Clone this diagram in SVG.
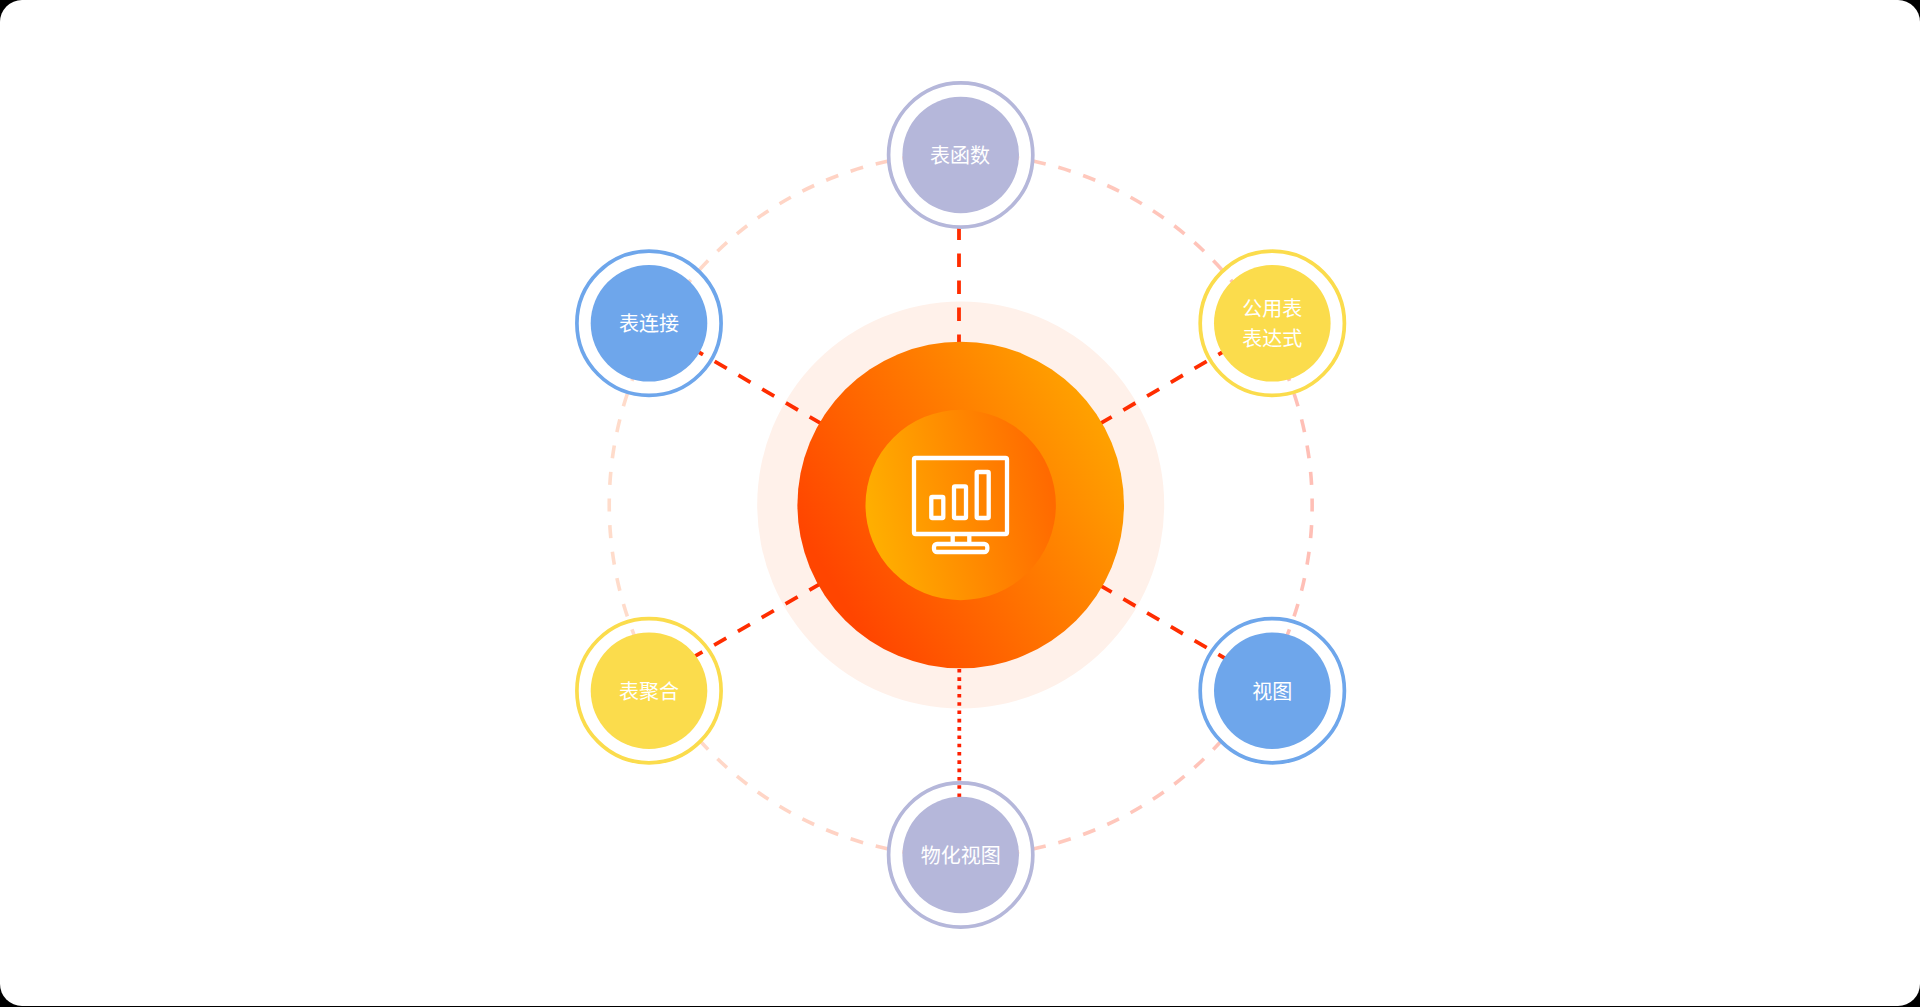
<svg xmlns="http://www.w3.org/2000/svg" width="1920" height="1007" viewBox="0 0 1920 1007">
<style>
.lbl{font-family:"Noto Sans CJK SC","Noto Sans",sans-serif;font-size:20px;fill:#fff;text-anchor:middle}
.ring{fill:none;stroke-width:3.7}
.link{fill:none;stroke:#ff2d00;stroke-width:3.8;stroke-dasharray:14 13.5}
.orbit{fill:none;stroke:url(#g3);stroke-width:3.6}
.o-a{stroke-dasharray:12 14.1 13 13.1 13 13.1 13 13.1 13 13.1 13 13.1 13 13.1 13 13.1 13 13.1 13 13.1 13 13.1 13 13.1}
.o-b{stroke-dasharray:13 13.67}
.blue .ring{stroke:#6ea6eb}.blue .disc{fill:#6ea6eb}
.yellow .ring{stroke:#fbdc4c}.yellow .disc{fill:#fbdc4c}
.violet .ring{stroke:#b5b7da}.violet .disc{fill:#b5b7da}
.icon{fill:none;stroke:#fff;stroke-width:4.3;stroke-linejoin:round}
</style>
<defs>
<linearGradient id="g1" x1="0.08" y1="0.75" x2="0.92" y2="0.25"><stop offset="0.03" stop-color="#ff4500"/><stop offset="1" stop-color="#ffa000"/></linearGradient>
<linearGradient id="g2" x1="0" y1="0.6" x2="1" y2="0.4"><stop offset="0.03" stop-color="#ffae00"/><stop offset="0.97" stop-color="#ff6a00"/></linearGradient>
<linearGradient id="g3" gradientUnits="userSpaceOnUse" x1="609" y1="505" x2="1312" y2="505"><stop offset="0" stop-color="#ffdccb"/><stop offset="1" stop-color="#ffbfb6"/></linearGradient>
</defs>
<rect width="1920" height="1007" fill="#000"/>
<rect width="1920" height="1006" rx="22" fill="#fff"/>
<circle id="halo" cx="960.7" cy="505" r="203.5" fill="#fff1ea"/>
<g id="connectors">
<path class="orbit o-a" d="M1007.3 156.6A351.5 351.5 0 0 1 1245.1 298.4"/>
<path class="orbit o-a" d="M914.1 156.6A351.5 351.5 0 0 0 676.3 298.4"/>
<path class="orbit o-a" d="M1007.3 853.4A351.5 351.5 0 0 0 1245.1 711.6"/>
<path class="orbit o-a" d="M914.1 853.4A351.5 351.5 0 0 1 676.3 711.6"/>
<path class="orbit o-b" d="M1284.7 368.8A351.5 351.5 0 0 1 1284.7 641.2"/>
<path class="orbit o-b" d="M636.7 368.8A351.5 351.5 0 0 0 636.7 641.2"/>
<line class="link" x1="959" y1="199.5" x2="959" y2="345" style="stroke-dasharray:13.5 13.5"/>
<line class="link" x1="690.9" y1="347.5" x2="830" y2="428.7"/>
<line class="link" x1="1230.4" y1="347.5" x2="1091.4" y2="428.7"/>
<line class="link" x1="690.3" y1="658.9" x2="830" y2="578.1"/>
<line class="link" x1="1230.4" y1="661.5" x2="1091.4" y2="580.3"/>
<line class="link" x1="959.3" y1="669" x2="959.3" y2="800" style="stroke-dasharray:3.6 4.7;stroke:#ff1f00"/>
</g>
<g id="center">
<circle cx="960.7" cy="505" r="163.3" fill="url(#g1)"/>
<circle cx="960.7" cy="505" r="95.2" fill="url(#g2)"/>
<g class="icon">
<rect x="914" y="458" width="93" height="76" rx="1.5"/>
<rect x="931.3" y="497" width="12" height="21" rx="1"/>
<rect x="954" y="486.3" width="12" height="31.7" rx="1"/>
<rect x="976.7" y="472" width="12" height="46" rx="1"/>
<path d="M952.7 535V544M969.3 535V544"/>
<rect x="934" y="544" width="53.3" height="8" rx="3"/>
</g>
</g>
<g id="node-top" class="violet"><circle class="ring" cx="960.7" cy="155" r="72.1"/><circle class="disc" cx="960.7" cy="155" r="58.3"/><text class="lbl" x="960" y="163.3">表函数</text></g>
<g id="node-upper-right" class="yellow"><circle class="ring" cx="1272.3" cy="323.3" r="72.1"/><circle class="disc" cx="1272.3" cy="323.3" r="58.3"/><text class="lbl" x="1272.3" y="316">公用表</text><text class="lbl" x="1272.3" y="346">表达式</text></g>
<g id="node-lower-right" class="blue"><circle class="ring" cx="1272.3" cy="690.7" r="72.1"/><circle class="disc" cx="1272.3" cy="690.7" r="58.3"/><text class="lbl" x="1272.3" y="698.8">视图</text></g>
<g id="node-bottom" class="violet"><circle class="ring" cx="960.7" cy="855" r="72.1"/><circle class="disc" cx="960.7" cy="855" r="58.3"/><text class="lbl" x="960.7" y="863.3">物化视图</text></g>
<g id="node-lower-left" class="yellow"><circle class="ring" cx="649" cy="690.7" r="72.1"/><circle class="disc" cx="649" cy="690.7" r="58.3"/><text class="lbl" x="649" y="698.8">表聚合</text></g>
<g id="node-upper-left" class="blue"><circle class="ring" cx="649" cy="323.3" r="72.1"/><circle class="disc" cx="649" cy="323.3" r="58.3"/><text class="lbl" x="649" y="331.3">表连接</text></g>
</svg>
